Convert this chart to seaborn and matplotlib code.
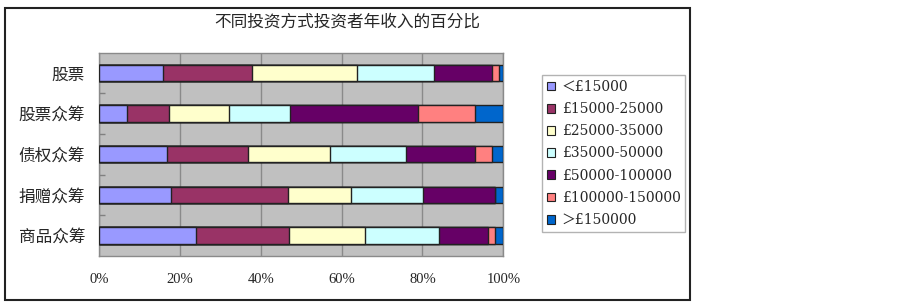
import numpy as np
import pandas as pd
import matplotlib
matplotlib.use("Agg")
import matplotlib.pyplot as plt
from matplotlib.patches import Patch, Rectangle
import seaborn as sns

categories = ["股票", "股票众筹", "债权众筹", "捐赠众筹", "商品众筹"]
series_names = ["＜£15000", "£15000-25000", "£25000-35000", "£35000-50000",
                "£50000-100000", "£100000-150000", "＞£150000"]
s1 = [15.8, 6.9, 16.9, 17.7, 24.0]
s2 = [22.1, 10.4, 20.0, 29.0, 23.1]
s3 = [26.0, 14.9, 20.2, 15.6, 18.8]
s4 = [19.0, 15.1, 18.8, 17.8, 18.1]
s5 = [14.2, 31.6, 17.0, 17.8, 12.1]
s6 = [1.9, 14.1, 4.3, 0.0, 1.8]
s7 = [1.0, 7.1, 2.8, 2.1, 2.1]
xtick_labels = ["0%", "20%", "40%", "60%", "80%", "100%"]
title = "不同投资方式投资者年收入的百分比"

colors = ["#9999FF", "#993366", "#FFFFCC", "#CCFFFF", "#660066", "#FF8080", "#0066CC"]

sns.set_theme(style="white")
plt.rcParams["font.family"] = ["Noto Sans CJK SC", "DejaVu Sans"]

vals = np.array([s1, s2, s3, s4, s5, s6, s7], dtype=float)
vals = vals / vals.sum(axis=0) * 100.0
cum = np.cumsum(vals, axis=0)

fig = plt.figure(figsize=(9.0, 3.07), dpi=100)
ax = fig.add_axes([99 / 900, 1 - 255.7 / 307, (503.3 - 99) / 900, (255.7 - 52.7) / 307])
ax.set_facecolor("#C0C0C0")

for i in reversed(range(len(series_names))):
    df = pd.DataFrame({"cat": categories, "v": cum[i]})
    sns.barplot(data=df, x="v", y="cat", order=categories, orient="h",
                color=colors[i], saturation=1, width=0.4,
                edgecolor="#222222", linewidth=1.0, ax=ax, zorder=3)

ax.set_xlim(0, 100)
ax.set_ylim(4.5, -0.5)
ax.set_xticks([0, 20, 40, 60, 80, 100])
ax.set_xticklabels(xtick_labels, family=["Liberation Serif", "DejaVu Serif"], fontsize=10.5)
ax.set_yticks(range(len(categories)))
ax.set_yticklabels(categories, fontsize=12)
ax.set_yticks([0.5, 1.5, 2.5, 3.5], minor=True)
ax.tick_params(axis="y", which="minor", length=4, direction="in", color="#808080", width=1, left=True)
ax.tick_params(axis="y", which="major", length=0, pad=10)
ax.tick_params(axis="x", which="major", length=0, pad=12.5)
ax.set_xlabel("")
ax.set_ylabel("")
ax.xaxis.grid(True, color="#8A8A8A", linewidth=1.0, zorder=1)
ax.yaxis.grid(False)
ax.set_axisbelow(True)
for sp in ax.spines.values():
    sp.set_visible(True)
    sp.set_color("#8A8A8A")
    sp.set_linewidth(1.0)

fig.text(347.5 / 900, 1 - 22 / 307, title, ha="center", va="center", fontsize=12)

handles = [Patch(facecolor=c, edgecolor="#222222", linewidth=0.8) for c in colors]
leg = fig.legend(handles, series_names, loc="upper left",
                 bbox_to_anchor=(542.3 / 900, 1 - 75 / 307),
                 prop={"family": ["DejaVu Serif", "Noto Sans CJK SC"], "size": 10},
                 frameon=True, fancybox=False, edgecolor="#A0A0A0",
                 handlelength=0.6, handleheight=0.6, handletextpad=0.45,
                 labelspacing=0.59, borderpad=0.35, borderaxespad=0)
leg.get_frame().set_linewidth(1.0)

fig.patches.append(Rectangle((5 / 900, 1 - 299.5 / 307), 685 / 900, 291.5 / 307,
                             transform=fig.transFigure, fill=False,
                             edgecolor="#222222", linewidth=1.5))

fig.savefig("out.png", dpi=100, facecolor="white")
